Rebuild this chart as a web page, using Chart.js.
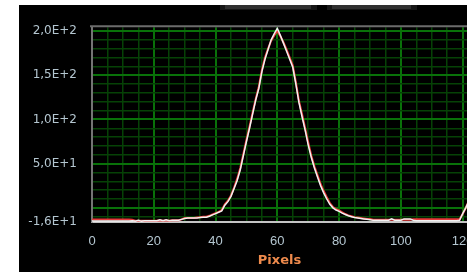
<!DOCTYPE html>
<html>
<head>
<meta charset="utf-8">
<script src="https://cdn.jsdelivr.net/npm/chart.js@4.4.1/dist/chart.umd.min.js"></script>
<style>
    html, body { margin: 0; padding: 0; background: #fff; width: 467px; height: 272px; overflow: hidden; }
    #panel { position: absolute; left: 19px; top: 5px; width: 448px; height: 267px; background: #000; }
    #chart { position: absolute; left: 0; top: 0; }
    .tab { position: absolute; top: 0; height: 5px; background: #161616; }
    .tab div { position: absolute; left: 5px; right: 6px; top: 0; bottom: 1px; background: #303030; }
</style>
</head>
<body>
<div id="panel">
    <canvas id="chart" width="448" height="267"></canvas>
    <div class="tab" style="left:201px;width:97px"><div></div></div>
    <div class="tab" style="left:308px;width:90px"><div></div></div>
</div>
<script>
// pixel index along the detector
const pixels = [
    0, 1, 2, 3, 4, 5, 6, 7, 8, 9, 10, 11, 12, 13, 14, 15, 16, 17, 18, 19,
    20, 21, 22, 23, 24, 25, 26, 27, 28, 29, 30, 31, 32, 33, 34, 35, 36, 37, 38, 39,
    40, 41, 42, 43, 44, 45, 46, 47, 48, 49, 50, 51, 52, 53, 54, 55, 56, 57, 58, 59,
    60, 61, 62, 63, 64, 65, 66, 67, 68, 69, 70, 71, 72, 73, 74, 75, 76, 77, 78, 79,
    80, 81, 82, 83, 84, 85, 86, 87, 88, 89, 90, 91, 92, 93, 94, 95, 96, 97, 98, 99,
    100, 101, 102, 103, 104, 105, 106, 107, 108, 109, 110, 111, 112, 113, 114, 115, 116, 117, 118, 119,
    120, 121, 122
];

// white trace (drawn on top)
const whiteTrace = [
    -15, -15, -15, -15, -15, -15, -15, -15, -15, -15, -15, -15, -15, -14.5, -15, -14, -15, -14.5, -14.5, -14.5,
    -14.5, -14.5, -13.5, -14.5, -13.5, -14.5, -14, -14, -14, -13, -12, -11.5, -11.5, -11.5, -11.5, -11, -10.5, -10.5, -9.5, -8,
    -6.5, -5, -3.5, 3, 7, 13, 22, 31, 43, 59, 75, 90, 106, 122, 135, 154, 168, 179, 190, 197,
    203, 195, 186, 177, 168, 159, 140, 119, 103, 88, 71, 57, 45, 35, 25, 17, 10, 4, 0, -2.5,
    -4, -6, -7.5, -9, -10, -11, -11.5, -12, -12.5, -13, -13.5, -14, -14, -14, -14, -14, -14, -12.5, -14, -14,
    -14, -12.5, -12.5, -12.5, -14, -14.5, -14.5, -14.5, -14.5, -14.5, -14.5, -14.5, -14.5, -14.5, -14.5, -14.5, -14.5, -14.5, -14.5, -14,
    -6.5, 0, 8
];

// red trace (drawn underneath)
const redTrace = [
    -13.3, -13.3, -13.3, -13.3, -13.3, -13.3, -13.3, -13.3, -13.3, -13.3, -13.3, -13.3, -13.3, -13.5, -14.5, -14.5, -14.5, -14.5, -14.5, -14.5,
    -14.5, -14.5, -14, -14.5, -14, -14.5, -14, -14, -14, -13, -11.5, -11.5, -11.5, -11.5, -11, -10.5, -10, -10, -9, -7.5,
    -6, -4.5, -2.5, 4, 8, 14, 23, 33, 45, 61, 77, 92, 108, 123, 137, 156, 170, 180, 189, 195,
    200, 194, 187, 179, 170, 161, 142, 121, 106, 90, 74, 59, 47, 37, 27, 19, 12, 5.5, 1, -1.5,
    -3, -5, -7, -8.5, -9.5, -10.5, -11, -11.5, -12, -12.5, -12.5, -13.5, -13.5, -13.5, -13.5, -13.5, -13.5, -13.5, -13.5, -13.5,
    -13.5, -13.5, -13.5, -13.5, -13, -13, -13, -13, -13, -13, -13, -13, -13, -13, -13, -13, -13, -13, -13, -13,
    -7, 0, 8
];

// labelled ticks
const yTickValues = [-16, 50, 100, 150, 200];
const xTickLabels = [0, 20, 40, 60, 80, 100, 120];

(function() {
    const majorGrid = '#097209';
    const minorGrid = '#064206';
    const labelColor = '#b4c6d0';

    function sci(v) {
        return v.toExponential(1).replace('.', ',').replace('e', 'E');
    }

    function points(values) {
        return pixels.map(function(p, i) { return { x: p, y: values[i] }; });
    }

    // grey frame line along the top of the plot
    const topFrame = {
        id: 'topFrame',
        beforeDatasetsDraw(chart) {
            const a = chart.chartArea;
            const ctx = chart.ctx;
            ctx.save();
            ctx.strokeStyle = '#6c6c6c';
            ctx.lineWidth = 2;
            ctx.beginPath();
            ctx.moveTo(a.left - 2, a.top - 1);
            ctx.lineTo(a.right, a.top - 1);
            ctx.stroke();
            ctx.restore();
        }
    };

    new Chart(document.getElementById('chart'), {
        type: 'line',
        data: {
            datasets: [
                {
                    data: points(whiteTrace),
                    borderColor: '#f2f2f2',
                    borderWidth: 1.5,
                    pointRadius: 0,
                    tension: 0
                },
                {
                    data: points(redTrace),
                    borderColor: '#e83a3a',
                    borderWidth: 2,
                    pointRadius: 0,
                    tension: 0
                }
            ]
        },
        options: {
            responsive: false,
            animation: false,
            devicePixelRatio: 1,
            events: [],
            layout: { padding: { top: 14, right: 0, left: 0, bottom: 0 } },
            plugins: {
                legend: { display: false },
                tooltip: { enabled: false }
            },
            scales: {
                x: {
                    type: 'linear',
                    min: 0,
                    max: 121.4,
                    afterBuildTicks: function(scale) {
                        const t = [];
                        for (let v = 0; v <= 120; v += 5) t.push({ value: v });
                        scale.ticks = t;
                    },
                    afterFit: function(scale) {
                        scale.height = 50;
                        scale.paddingRight = 0;
                        scale.paddingLeft = 0;
                    },
                    grid: {
                        drawTicks: false,
                        lineWidth: function(ctx) {
                            return ctx.tick && ctx.tick.value % 20 === 0 ? 2 : 1.5;
                        },
                        color: function(ctx) {
                            const v = ctx.tick.value;
                            if (v === 0) return 'rgba(0,0,0,0)';
                            return v % 20 === 0 ? majorGrid : minorGrid;
                        }
                    },
                    border: { color: '#c4c4c4', width: 2 },
                    ticks: {
                        autoSkip: false,
                        maxRotation: 0,
                        padding: 12,
                        color: labelColor,
                        font: { family: 'Liberation Sans', size: 13 },
                        callback: function(value) {
                            return xTickLabels.indexOf(value) >= 0 ? String(value) : '';
                        }
                    },
                    title: {
                        display: true,
                        text: 'Pixels',
                        color: '#ee8a4c',
                        font: { family: 'DejaVu Sans', size: 13, weight: 'bold' },
                        padding: { top: 0, bottom: 4 }
                    }
                },
                y: {
                    min: -16,
                    max: 204.3,
                    afterBuildTicks: function(scale) {
                        const t = [{ value: -16 }];
                        for (let v = -10; v <= 200; v += 10) t.push({ value: v });
                        scale.ticks = t;
                    },
                    afterFit: function(scale) {
                        scale.width = 73;
                    },
                    grid: {
                        drawTicks: false,
                        lineWidth: function(ctx) {
                            return ctx.tick && ctx.tick.value % 50 === 0 ? 2 : 1.5;
                        },
                        color: function(ctx) {
                            const v = ctx.tick.value;
                            if (v === -16) return 'rgba(0,0,0,0)';
                            return v % 50 === 0 ? majorGrid : minorGrid;
                        }
                    },
                    border: { color: '#747474', width: 2 },
                    ticks: {
                        autoSkip: false,
                        padding: 15,
                        color: labelColor,
                        font: { family: 'DejaVu Sans', size: 12 },
                        callback: function(value) {
                            return yTickValues.indexOf(value) >= 0 ? sci(value) : '';
                        }
                    }
                }
            }
        },
        plugins: [topFrame]
    });
})();
</script>
</body>
</html>
